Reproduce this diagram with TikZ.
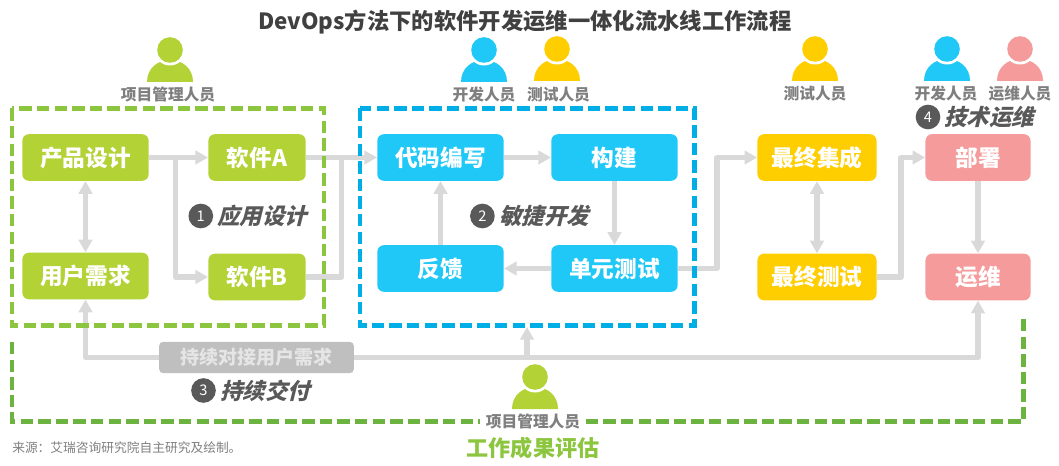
\documentclass[tikz,border=0pt]{standalone}
\usepackage{fontspec}
\setmainfont{Noto Sans CJK SC}
\newfontfamily\slantfont[FakeSlant=0.25]{Noto Sans CJK SC}
\usepackage{xcolor}
\usetikzlibrary{arrows.meta}

\definecolor{limegreen}{HTML}{B2D235}
\definecolor{skyblue}{HTML}{1FC8F7}
\definecolor{amber}{HTML}{FFCE00}
\definecolor{salmon}{HTML}{F59B9B}
\definecolor{flowgrey}{HTML}{D9D9D9}
\definecolor{textgrey}{HTML}{7F7F7F}
\definecolor{darkgrey}{HTML}{595959}
\definecolor{titlegrey}{HTML}{404040}
\definecolor{groupgreen}{HTML}{8CC63F}
\definecolor{groupblue}{HTML}{00AEE6}
\definecolor{outergreen}{HTML}{6DB33F}

\tikzset{
    taskbox/.style = {rounded corners = 5pt, inner sep = 0pt, minimum height = 35pt, text = white, font = \fontsize{17pt}{18pt}\selectfont\bfseries},
    flow/.style = {draw = flowgrey, line width = 3.8pt, line join = round, -{Triangle[width = 10pt, length = 9.5pt]}},
    twoway/.style = {draw = flowgrey, line width = 3.8pt, {Triangle[width = 10pt, length = 9.5pt]}-{Triangle[width = 10pt, length = 9.5pt]}},
    plainflow/.style = {draw = flowgrey, line width = 3.8pt, line join = round},
    groupline/.style = {line width = 3.4pt, dash pattern = on 9.3pt off 3.9pt},
    rolelabel/.style = {inner sep = 0pt, text = textgrey, font = \fontsize{11.8pt}{13pt}\selectfont\bfseries},
    badge/.style = {circle, fill = darkgrey, minimum size = 18.5pt, inner sep = 0pt, text = white, font = \fontsize{11pt}{12pt}\selectfont},
    phaselabel/.style = {inner sep = 0pt, text = darkgrey, font = \fontsize{16.8pt}{18pt}\slantfont\bfseries}
}

\newcommand{\personicon}[3]{
    \begin{scope}[shift = {(#1,#2)}]
        \fill[#3] (-23,32) .. controls (-23,18) and (-12,10) .. (0,10) .. controls (12,10) and (23,18) .. (23,32) -- cycle;
        \fill[white] (0,0) circle [radius = 15.5];
        \fill[#3] (0,0) circle [radius = 12.8];
    \end{scope}
}

\begin{document}
\begin{tikzpicture}[x = 0.75pt, y = -0.75pt]
    \useasboundingbox (0,0) rectangle (1059,466);

    \node[inner sep = 0pt, text = titlegrey, font = \fontsize{16.75pt}{19pt}\selectfont\bfseries] (title) at (525,22) {DevOps方法下的软件开发运维一体化流水线工作流程};

    % people on top
    \personicon{170}{50}{limegreen}
    \personicon{484}{50}{skyblue}
    \personicon{557}{49}{amber}
    \personicon{815}{49}{amber}
    \personicon{947}{49}{skyblue}
    \personicon{1020}{49}{salmon}
    \personicon{535}{377}{limegreen}

    \node[rolelabel] (roleplan) at (168,94.5) {项目管理人员};
    \node[rolelabel] (roledev) at (484,94.5) {开发人员};
    \node[rolelabel] (roletest) at (558.5,94.5) {测试人员};
    \node[rolelabel] (rolefinal) at (815,93.5) {测试人员};
    \node[rolelabel] (roledeploy) at (946,93.5) {开发人员};
    \node[rolelabel] (roleops) at (1020,93.5) {运维人员};

    % task boxes
    \node[taskbox, fill = limegreen, minimum width = 94.8pt] (design) at (85.5,157.5) {产品设计};
    \node[taskbox, fill = limegreen, minimum width = 73pt] (softa) at (257,157.5) {软件A};
    \node[taskbox, fill = limegreen, minimum width = 94.8pt] (need) at (85.5,276) {用户需求};
    \node[taskbox, fill = limegreen, minimum width = 73pt] (softb) at (257,277) {软件B};

    \node[taskbox, fill = skyblue, minimum width = 94.8pt] (code) at (440.5,157.5) {代码编写};
    \node[taskbox, fill = skyblue, minimum width = 94.8pt] (build) at (614.5,157.5) {构建};
    \node[taskbox, fill = skyblue, minimum width = 94.8pt] (back) at (440.5,268.5) {反馈};
    \node[taskbox, fill = skyblue, minimum width = 94.8pt] (unit) at (614.5,268.5) {单元测试};

    \node[taskbox, fill = amber, minimum width = 89.3pt] (merge) at (817,157.5) {最终集成};
    \node[taskbox, fill = amber, minimum width = 89.3pt] (final) at (817,277) {最终测试};

    \node[taskbox, fill = salmon, minimum width = 78.8pt] (deploy) at (978,157.5) {部署};
    \node[taskbox, fill = salmon, minimum width = 78.8pt] (ops) at (978,277) {运维};

    \node[rounded corners = 3pt, fill = black!25, inner sep = 0pt, minimum width = 146pt, minimum height = 23.5pt, text = white!90!black, font = \fontsize{14.3pt}{16pt}\selectfont\bfseries] (keep) at (256.5,357.5) {持续对接用户需求};

    % turning points of the connectors
    \coordinate (splitplan) at (175.8,157.5);
    \coordinate (splitdev) at (341.8,157.5);
    \coordinate (turntest) at (717,157.5);
    \coordinate (turnops) at (901,157.5);
    \coordinate (splitkeep) at (527,357.5);
    \coordinate (devbottom) at (527,327);

    % connectors
    \draw[flow] (design) -- (softa);
    \draw[flow] (splitplan) |- (softb);
    \draw[flow] (softa) -- (code);
    \draw[plainflow] (softb) -| (splitdev);
    \draw[flow] (code) -- (build);
    \draw[flow] (build) -- (unit);
    \draw[flow] (unit) -- (back);
    \draw[flow] (back) -- (code);
    \draw[twoway] (design) -- (need);
    \draw[twoway] (merge) -- (final);
    \draw[flow] (unit) -| (turntest) -- (merge);
    \draw[flow] (final) -| (turnops) -- (deploy);
    \draw[flow] (deploy) -- (ops);
    \draw[flow] (keep) -| (need);
    \draw[flow] (keep) -| (ops);
    \draw[flow] (splitkeep) -- (devbottom);

    % dashed groups
    \coordinate (planul) at (11.8,108.5);
    \coordinate (planlr) at (324,325.5);
    \coordinate (devul) at (360,108.5);
    \coordinate (devlr) at (694.3,325.5);
    \draw[groupline, groupgreen] (planul) rectangle (planlr);
    \draw[groupline, groupblue] (devul) rectangle (devlr);

    \node[rolelabel, inner xsep = 4pt] (rolereview) at (533,421.5) {项目管理人员};
    \coordinate (outerstart) at (12,342);
    \coordinate (outercorner) at (12,421.5);
    \coordinate (outerright) at (1023.6,421.5);
    \coordinate (outerend) at (1023.6,315);
    \draw[groupline, outergreen] (outerstart) -- (outercorner) -- (rolereview.west);
    \draw[groupline, outergreen] (rolereview.east) -- (outerright) -- (outerend);

    % phase labels
    \node[badge] (badgeone) at (200.8,216) {1};
    \node[phaselabel] (phaseone) at (262,216) {应用设计};
    \node[badge] (badgetwo) at (482.4,216) {2};
    \node[phaselabel] (phasetwo) at (544,216) {敏捷开发};
    \node[badge] (badgethree) at (203.5,390.5) {3};
    \node[phaselabel] (phasethree) at (265,390.5) {持续交付};
    \node[badge] (badgefour) at (928,117) {4};
    \node[phaselabel] (phasefour) at (989,117) {技术运维};

    \node[inner sep = 0pt, text = groupgreen, font = \fontsize{16.6pt}{19pt}\selectfont\bfseries] (review) at (533,448) {工作成果评估};
    \node[anchor = west, inner sep = 0pt, text = textgrey, font = \fontsize{9.55pt}{11pt}\selectfont] (source) at (12,448) {来源：艾瑞咨询研究院自主研究及绘制。};
\end{tikzpicture}
\end{document}
